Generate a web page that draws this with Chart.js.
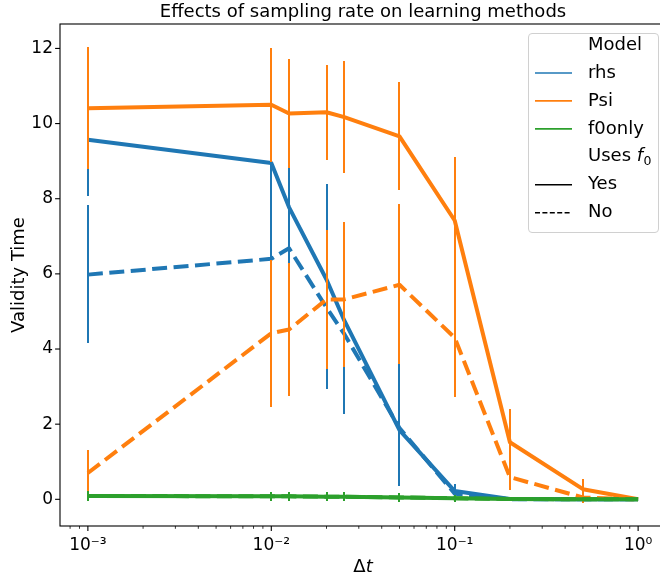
<!DOCTYPE html>
<html>
<head>
<meta charset="utf-8">
<script src="https://cdn.jsdelivr.net/npm/chart.js@4.4.0/dist/chart.umd.min.js"></script>
<style>
html, body { margin: 0; padding: 0; background: #fff; overflow: hidden; }
#wrap { width: 660px; height: 578px; overflow: hidden; }
canvas { display: block; }
</style>
</head>
<body>
<div id="wrap"><canvas id="validity" width="666" height="578"></canvas></div>
<script>
// sampling step
var dt = [0.001, 0.01, 0.0125, 0.02, 0.025, 0.05, 0.1, 0.2, 0.5, 1.0];

// rhs model
var rhsYes   = [9.57, 8.95, 7.77, 5.85, 4.76, 1.84, 0.22, 0.01, 0.0, 0.0];
var rhsYesLo = [8.07, 7.40, 6.60, 3.30, 2.60, 0.40, 0.05, 0.0, 0.0, 0.0];
var rhsYesHi = [11.07, 10.50, 8.90, 8.38, 6.90, 3.30, 0.42, 0.02, 0.0, 0.0];
var rhsNo    = [5.98, 6.40, 6.68, 5.10, 4.40, 1.90, 0.15, 0.0, 0.0, 0.0];
var rhsNoLo  = [4.15, 5.00, 5.40, 2.93, 2.26, 0.35, 0.02, 0.0, 0.0, 0.0];
var rhsNoHi  = [7.82, 7.80, 7.90, 7.20, 6.50, 3.67, 0.30, 0.0, 0.0, 0.0];

// Psi model
var psiYes   = [10.41, 10.50, 10.27, 10.30, 10.17, 9.66, 7.42, 1.52, 0.27, 0.0];
var psiYesLo = [8.79, 8.99, 8.82, 9.03, 8.68, 8.24, 5.72, 0.63, 0.0, 0.0];
var psiYesHi = [12.03, 12.01, 11.72, 11.57, 11.66, 11.10, 9.12, 2.41, 0.55, 0.0];
var psiNo    = [0.70, 4.42, 4.52, 5.32, 5.32, 5.71, 4.30, 0.59, 0.05, 0.0];
var psiNoLo  = [0.08, 2.47, 2.74, 3.46, 3.51, 3.60, 2.72, 0.26, -0.10, 0.0];
var psiNoHi  = [1.30, 6.37, 6.30, 7.18, 7.38, 7.85, 5.88, 0.92, 0.20, 0.0];

// f0only model
var f0Yes    = [0.09, 0.08, 0.08, 0.07, 0.07, 0.05, 0.03, 0.01, 0.0, 0.0];
var f0YesLo  = [-0.04, -0.04, -0.04, -0.05, -0.05, -0.06, -0.06, -0.02, 0.0, 0.0];
var f0YesHi  = [0.22, 0.20, 0.20, 0.19, 0.19, 0.16, 0.12, 0.04, 0.0, 0.0];
var f0No     = [0.09, 0.08, 0.08, 0.07, 0.07, 0.05, 0.03, 0.01, 0.0, 0.0];
var f0NoLo   = [-0.04, -0.04, -0.04, -0.05, -0.05, -0.06, -0.06, -0.02, 0.0, 0.0];
var f0NoHi   = [0.22, 0.20, 0.20, 0.19, 0.19, 0.16, 0.12, 0.04, 0.0, 0.0];

var xTickValues = [0.001, 0.01, 0.1, 1];
var xTickLabels = ['10\u207B\u00B3', '10\u207B\u00B2', '10\u207B\u00B9', '10\u2070'];
var yTickValues = [0, 2, 4, 6, 8, 10, 12];

var BLUE = '#1f77b4', ORANGE = '#ff7f0e', GREEN = '#2ca02c';
var DASH = [15, 6.5];
var FONT = 'DejaVu Sans';

function pts(vals) {
  return dt.map(function (x, i) { return { x: x, y: vals[i] }; });
}

function series(label, color, vals, lo, hi, dashed, order) {
  return {
    label: label,
    data: pts(vals),
    errLo: lo,
    errHi: hi,
    borderColor: color,
    backgroundColor: color,
    borderWidth: 4,
    borderDash: dashed ? DASH : [],
    borderJoinStyle: 'round',
    pointRadius: 0,
    tension: 0,
    fill: false,
    order: order
  };
}

// vertical error bars, drawn right after each line
var errorBars = {
  id: 'errorBars',
  afterDatasetDraw: function (chart, args) {
    var ds = chart.data.datasets[args.index];
    if (!ds.errLo) return;
    var ctx = chart.ctx, xs = chart.scales.x, ys = chart.scales.y, a = chart.chartArea;
    ctx.save();
    ctx.beginPath();
    ctx.rect(a.left, a.top, a.right - a.left, a.bottom - a.top);
    ctx.clip();
    ctx.strokeStyle = ds.borderColor;
    ctx.lineWidth = 2;
    ctx.setLineDash([]);
    for (var i = 0; i < dt.length; i++) {
      if (ds.errHi[i] === ds.errLo[i]) continue;
      var px = Math.round(xs.getPixelForValue(dt[i]));
      ctx.beginPath();
      ctx.moveTo(px, Math.round(ys.getPixelForValue(ds.errLo[i])));
      ctx.lineTo(px, Math.round(ys.getPixelForValue(ds.errHi[i])));
      ctx.stroke();
    }
    ctx.restore();
  }
};

var legendRows = [
  { label: 'Model' },
  { label: 'rhs', color: BLUE },
  { label: 'Psi', color: ORANGE },
  { label: 'f0only', color: GREEN },
  { label: 'Uses', sub: true },
  { label: 'Yes', color: '#000' },
  { label: 'No', color: '#000', dash: [5, 2.4] }
];

// frame, tick marks, titles and legend
var decorations = {
  id: 'decorations',
  afterDraw: function (chart) {
    var ctx = chart.ctx, a = chart.chartArea, xs = chart.scales.x, ys = chart.scales.y;
    ctx.save();
    ctx.strokeStyle = '#000';
    ctx.lineWidth = 1.1;
    ctx.setLineDash([]);
    ctx.strokeRect(a.left, a.top, a.right - a.left, a.bottom - a.top);

    // log ticks on x
    for (var e = -4; e <= 0; e++) {
      for (var k = 1; k <= 9; k++) {
        var v = k * Math.pow(10, e);
        if (v < xs.min || v > xs.max) continue;
        var px = xs.getPixelForValue(v);
        ctx.beginPath();
        ctx.moveTo(px, a.bottom);
        ctx.lineTo(px, a.bottom + (k === 1 ? 4.9 : 2.8));
        ctx.lineWidth = k === 1 ? 1.1 : 0.8;
        ctx.stroke();
      }
    }
    ctx.lineWidth = 1.1;
    yTickValues.forEach(function (v) {
      var py = ys.getPixelForValue(v);
      ctx.beginPath();
      ctx.moveTo(a.left, py);
      ctx.lineTo(a.left - 4.9, py);
      ctx.stroke();
    });

    ctx.fillStyle = '#000';
    // title
    ctx.font = '18px ' + FONT;
    ctx.textAlign = 'center';
    ctx.textBaseline = 'alphabetic';
    ctx.fillText('Effects of sampling rate on learning methods', (a.left + a.right) / 2, 17);

    // x label: Δt
    var cx = (a.left + a.right) / 2;
    ctx.font = '18px ' + FONT;
    var wD = ctx.measureText('\u0394').width;
    ctx.font = 'italic 18px ' + FONT;
    var wT = ctx.measureText('t').width;
    ctx.textAlign = 'left';
    ctx.font = '18px ' + FONT;
    ctx.fillText('\u0394', cx - (wD + wT) / 2, 572);
    ctx.font = 'italic 18px ' + FONT;
    ctx.fillText('t', cx - (wD + wT) / 2 + wD, 572);

    // y label
    ctx.save();
    ctx.translate(24, (a.top + a.bottom) / 2);
    ctx.rotate(-Math.PI / 2);
    ctx.font = '18px ' + FONT;
    ctx.textAlign = 'center';
    ctx.fillText('Validity Time', 0, 0);
    ctx.restore();

    // legend
    var bx = 528, by = 33, bw = 130, bh = 199;
    ctx.beginPath();
    ctx.roundRect(bx + 0.5, by + 0.5, bw, bh, 3.5);
    ctx.fillStyle = 'rgba(255,255,255,0.8)';
    ctx.fill();
    ctx.strokeStyle = '#d0d0d0';
    ctx.lineWidth = 1;
    ctx.stroke();

    ctx.textAlign = 'left';
    ctx.textBaseline = 'middle';
    legendRows.forEach(function (r, i) {
      var y = 45 + i * 27.95;
      if (r.color) {
        ctx.beginPath();
        ctx.strokeStyle = r.color;
        ctx.lineWidth = 1.6;
        ctx.setLineDash(r.dash || []);
        ctx.moveTo(535, y);
        ctx.lineTo(572, y);
        ctx.stroke();
        ctx.setLineDash([]);
      }
      ctx.fillStyle = '#000';
      ctx.font = '18px ' + FONT;
      ctx.fillText(r.label, 588, y);
      if (r.sub) {
        var x0 = 588 + ctx.measureText(r.label + ' ').width;
        ctx.font = 'italic 18px ' + FONT;
        ctx.fillText('f', x0, y);
        var wf = ctx.measureText('f').width;
        ctx.font = '12.5px ' + FONT;
        ctx.fillText('0', x0 + wf + 0.5, y + 4.5);
      }
    });
    ctx.restore();
  }
};

Chart.defaults.font.family = FONT;
Chart.defaults.color = '#000';

new Chart(document.getElementById('validity').getContext('2d'), {
  type: 'line',
  data: {
    datasets: [
      series('rhs', BLUE, rhsYes, rhsYesLo, rhsYesHi, false, 6),
      series('rhs', BLUE, rhsNo, rhsNoLo, rhsNoHi, true, 5),
      series('Psi', ORANGE, psiYes, psiYesLo, psiYesHi, false, 4),
      series('Psi', ORANGE, psiNo, psiNoLo, psiNoHi, true, 3),
      series('f0only', GREEN, f0Yes, f0YesLo, f0YesHi, false, 2),
      series('f0only', GREEN, f0No, f0NoLo, f0NoHi, true, 1)
    ]
  },
  options: {
    responsive: false,
    animation: false,
    devicePixelRatio: 1,
    layout: { padding: { top: 24, right: 0, left: 0, bottom: 0 } },
    plugins: {
      legend: { display: false },
      title: { display: false },
      tooltip: { enabled: false }
    },
    scales: {
      x: {
        type: 'logarithmic',
        min: Math.pow(10, -3.152),
        max: Math.pow(10, 0.152),
        grid: { display: false, drawTicks: false },
        border: { display: false },
        afterBuildTicks: function (scale) {
          scale.ticks = xTickValues.map(function (v) { return { value: v }; });
        },
        afterFit: function (scale) { scale.height = 52; },
        ticks: {
          autoSkip: false,
          maxRotation: 0,
          padding: 9,
          font: { size: 17 },
          callback: function (value) {
            var i = xTickValues.indexOf(value);
            return i < 0 ? '' : xTickLabels[i];
          }
        }
      },
      y: {
        min: -0.71,
        max: 12.65,
        grid: { display: false, drawTicks: false },
        border: { display: false },
        afterBuildTicks: function (scale) {
          scale.ticks = yTickValues.map(function (v) { return { value: v }; });
        },
        afterFit: function (scale) { scale.width = 60; },
        ticks: {
          padding: 7,
          font: { size: 17 },
          callback: function (value) { return String(value); }
        }
      }
    }
  },
  plugins: [errorBars, decorations]
});
</script>
</body>
</html>
